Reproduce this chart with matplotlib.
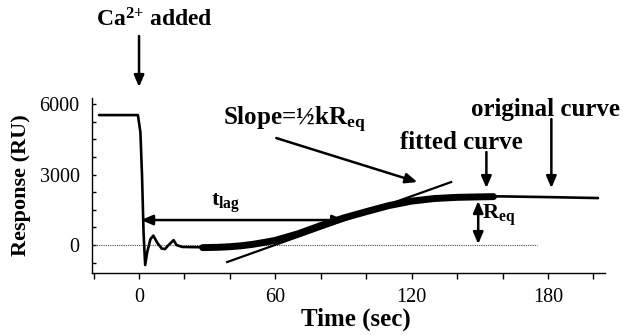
import matplotlib.pyplot as plt
import numpy as np

plt.rcParams['font.family'] = 'Liberation Serif'
plt.rcParams['mathtext.fontset'] = 'custom'
plt.rcParams['mathtext.rm'] = 'Liberation Serif:bold'
plt.rcParams['mathtext.bf'] = 'Liberation Serif:bold'
plt.rcParams['mathtext.it'] = 'Liberation Serif:bold'
plt.rcParams['mathtext.default'] = 'bf'

# original sensorgram (time in sec, response in RU)
orig_t = [-17.6, -0.5, 0.6, 1.3, 2.0, 2.7, 3.6, 5.0, 6.3, 8.0, 10.0, 11.4, 13.0, 15.2,
          16.5, 19.0, 25.0, 30.0, 40, 50, 60, 70, 80, 90, 100, 110, 120, 130, 140,
          150, 160, 180, 202]
orig_r = [5530, 5530, 4800, 3000, 500, -850, -300, 250, 400, 100, -150, -170, 0, 210,
          0, -80, -90, -90, -70, 30, 200, 480, 830, 1150, 1420, 1680, 1870, 1980, 2040,
          2070, 2070, 2040, 2000]

# fitted curve
fit_t = [28, 35, 40, 45, 50, 55, 60, 70, 80, 90, 100, 110, 120, 130, 140, 150, 156]
fit_r = [-110, -95, -70, -30, 30, 110, 200, 480, 830, 1150, 1420, 1680, 1870, 1980, 2030, 2050, 2060]

# tangent line (slope = 1/2 k Req)
tan_t = [38.8, 137.4]
tan_r = [-723, 2681]

xticks = [0, 60, 120, 180]
yticks = [0, 3000, 6000]

fig = plt.figure(figsize=(6.23, 3.35), dpi=100)
ax = fig.add_axes([0.1477, 0.185, 0.823, 0.522])

ax.plot([-20.7, 175], [0, 0], ls=(0, (1, 1)), lw=0.8, c='0.3')
ax.plot(orig_t, orig_r, c='k', lw=1.9, solid_capstyle='round')
ax.plot(fit_t, fit_r, c='k', lw=5, solid_capstyle='round')
ax.plot(tan_t, tan_r, c='k', lw=1.6)

ax.set_xlim(-20.7, 205)
ax.set_ylim(-1190, 6250)
for s in ['top', 'right']:
    ax.spines[s].set_visible(False)
ax.spines['left'].set_linewidth(1.0)
ax.spines['bottom'].set_linewidth(1.0)

ax.set_xticks(xticks)
ax.set_xticks(np.arange(-20, 205, 20), minor=True)
ax.set_yticks(yticks)
ax.set_yticks(np.arange(-750, 6250, 750), minor=True)
ax.tick_params(axis='x', which='both', direction='out', length=4, width=1, labelsize=14.5, pad=7)
ax.tick_params(axis='y', which='both', direction='in', length=3, width=1, labelsize=14.5, pad=9)

ax.set_xlabel('Time (sec)', fontsize=18, fontweight='bold')
ax.xaxis.set_label_coords(0.515, -0.2)
ax.set_ylabel('Response (RU)', fontsize=16, fontweight='bold', labelpad=6)

arr = dict(arrowstyle='-|>,head_length=0.7,head_width=0.3', color='k', lw=1.8,
           shrinkA=0, shrinkB=0)
darr = dict(arrowstyle='<|-|>,head_length=0.7,head_width=0.3', color='k', lw=1.8,
            shrinkA=0, shrinkB=0)

# Ca2+ added
ax.annotate('', xy=(0, 6723), xytext=(0, 8893), arrowprops=arr, annotation_clip=False)
ax.text(6.6, 9574, 'Ca$^{2{+}}$ added', fontsize=17, fontweight='bold',
        ha='center', va='center', clip_on=False)

# slope label
ax.annotate('', xy=(122.5, 2681), xytext=(60.4, 4553), arrowprops=arr, annotation_clip=False)
ax.text(68.3, 5319, 'Slope=\u00bdkR$_{eq}$', fontsize=18, fontweight='bold',
        ha='center', va='center', clip_on=False)

# fitted curve
ax.annotate('', xy=(152.9, 2425), xytext=(152.9, 3957), arrowprops=arr, annotation_clip=False)
ax.text(141.9, 4383, 'fitted curve', fontsize=18, fontweight='bold',
        ha='center', va='center', clip_on=False)

# original curve
ax.annotate('', xy=(181.5, 2425), xytext=(181.5, 5361), arrowprops=arr, annotation_clip=False)
ax.text(178.9, 5787, 'original curve', fontsize=18, fontweight='bold',
        ha='center', va='center', clip_on=False)

# t_lag
ax.annotate('', xy=(0.9, 1064), xytext=(90.3, 1064), arrowprops=darr)
ax.text(37.9, 1787, 't$_{lag}$', fontsize=16, fontweight='bold', ha='center', va='center')

# R_eq
ax.annotate('', xy=(149.3, 43), xytext=(149.3, 1872), arrowprops=darr)
ax.text(150.8, 1250, 'R$_{eq}$', fontsize=16, fontweight='bold', ha='left', va='center')

fig.savefig('out.png', dpi=100)
